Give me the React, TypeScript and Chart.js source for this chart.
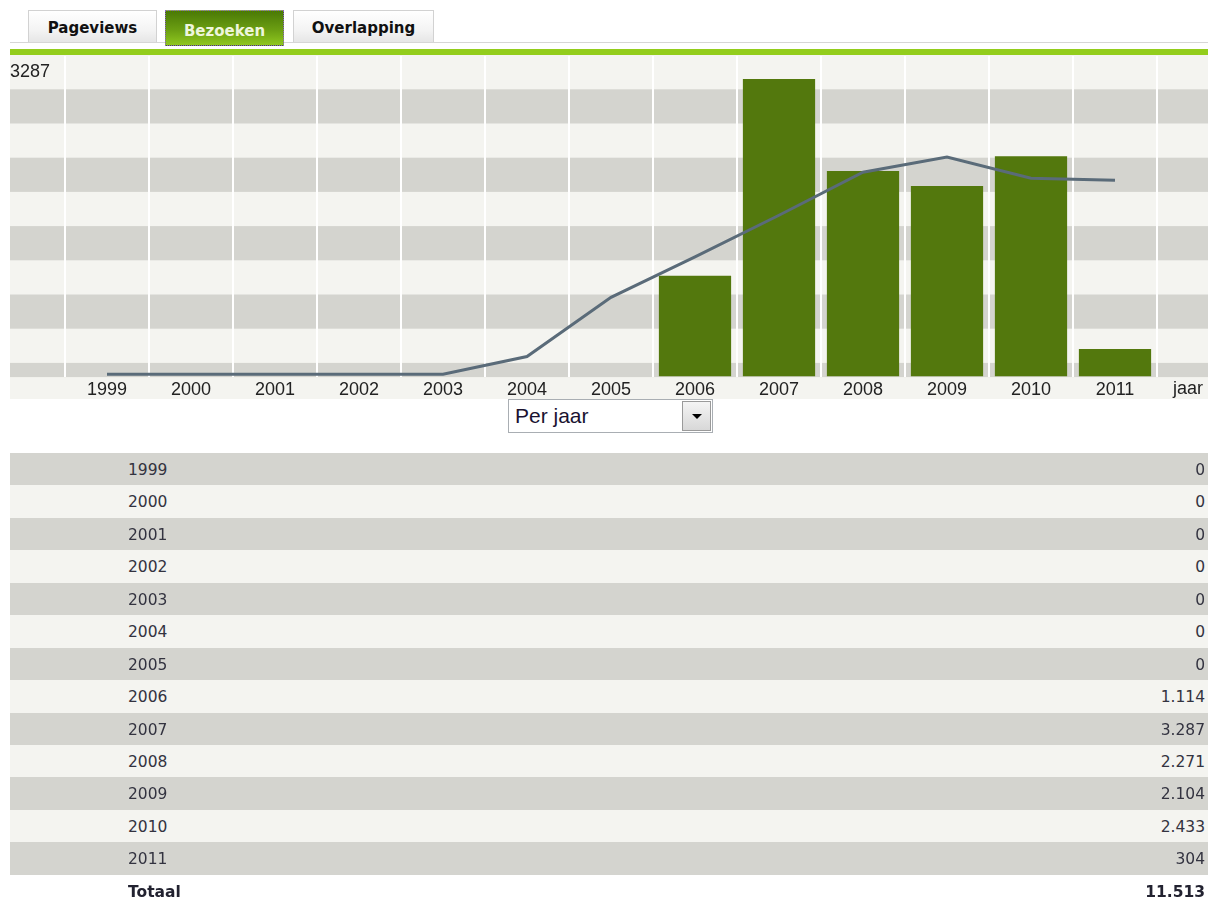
import React, { useEffect, useRef } from "react";
import { Chart, registerables } from "chart.js";

Chart.register(...registerables);

const years = ["1999", "2000", "2001", "2002", "2003", "2004", "2005", "2006", "2007", "2008", "2009", "2010", "2011"];
const visits = [0, 0, 0, 0, 0, 0, 0, 1114, 3287, 2271, 2104, 2433, 304];
const trend = [25, 25, 25, 25, 25, 221, 874, 1321, 1781, 2257, 2423, 2190, 2168];
const tabs = ["Pageviews", "Bezoeken", "Overlapping"];
const yMaxLabel = "3287";
const xAxisTitle = "jaar";
const periodLabel = "Per jaar";
const totalLabel = "Totaal";

const fmt = (n: number) => String(n).replace(/\B(?=(\d{3})+(?!\d))/g, ".");

const stripePlugin = {
  id: "stripes",
  beforeDraw(chart: any) {
    const { ctx, chartArea, width, height } = chart;
    ctx.save();
    ctx.fillStyle = "#f4f4f0";
    ctx.fillRect(0, 0, width, height);
    ctx.fillStyle = "#d4d4cf";
    const bottom = chartArea.bottom + 0.6;
    for (let y = 34.3; y < bottom; y += 68.4) {
      const h = Math.min(34.2, bottom - y);
      ctx.fillRect(0, y, width, h);
    }
    ctx.restore();
  },
};

function ChartBox() {
  const ref = useRef<HTMLCanvasElement | null>(null);
  useEffect(() => {
    if (!ref.current) return;
    const chart = new Chart(ref.current, {
      type: "bar",
      data: {
        labels: years,
        datasets: [
          {
            type: "line",
            data: trend,
            borderColor: "#5a6b79",
            borderWidth: 3,
            pointRadius: 0,
            tension: 0,
            order: 0,
          } as any,
          {
            type: "bar",
            data: visits,
            backgroundColor: "#53780d",
            borderWidth: 0,
            barPercentage: 0.86,
            categoryPercentage: 1,
            order: 1,
          },
        ],
      },
      options: {
        responsive: false,
        animation: false,
        layout: { padding: { left: 55, right: 51, top: 1, bottom: 0 } },
        plugins: { legend: { display: false }, tooltip: { enabled: false } },
        scales: {
          x: {
            offset: true,
            grid: { display: true, color: "#ffffff", lineWidth: 2, drawTicks: false, offset: true },
            border: { display: false },
            afterFit: (scale: any) => {
              scale.height = 22.5;
            },
            ticks: {
              padding: 3,
              color: "#222222",
              font: { family: "'Liberation Sans', Arial, sans-serif", size: 18 },
              maxRotation: 0,
              autoSkip: false,
            },
          },
          y: {
            display: false,
            min: 0,
            max: 3540,
            grid: { display: false },
          },
        },
      },
      plugins: [stripePlugin],
    });
    return () => chart.destroy();
  }, []);
  return <canvas ref={ref} width={1198} height={344} style={{ display: "block", width: 1198, height: 344 }} />;
}

const tabFont = "'DejaVu Sans', Verdana, sans-serif";

function Tabs() {
  const geo = [
    { left: 28, width: 129, top: 10, height: 32 },
    { left: 165, width: 119, top: 10, height: 36 },
    { left: 293, width: 141, top: 10, height: 32 },
  ];
  return (
    <>
      {tabs.map((t, i) => {
        const g = geo[i];
        const active = i === 1;
        return (
          <div
            key={t}
            style={{
              position: "absolute",
              left: g.left,
              top: g.top,
              width: g.width,
              height: g.height,
              boxSizing: "border-box",
              border: active ? "1px dotted #8a5ccf" : "1px solid #d2d2d2",
              borderBottom: active ? "1px dotted #8a5ccf" : "none",
              background: active
                ? "linear-gradient(#4a7906, #6b9e12 55%, #8fc71f)"
                : "linear-gradient(#ffffff, #f4f4f4 60%, #e6e6e6)",
              color: active ? "#eef6dc" : "#111111",
              fontFamily: tabFont,
              fontWeight: "bold",
              fontSize: 15,
              textAlign: "center",
              lineHeight: active ? "40px" : "34px",
            }}
          >
            {t}
          </div>
        );
      })}
    </>
  );
}

export default function App() {
  const rowFont = "'DejaVu Sans', Verdana, sans-serif";
  const total = visits.reduce((a, b) => a + b, 0);
  return (
    <div style={{ position: "absolute", left: 0, top: 0, width: 1208, height: 901, background: "#ffffff" }}>
      <div style={{ position: "absolute", left: 10, top: 42, width: 1198, height: 1, background: "#d6d6d6" }} />
      <Tabs />
      <div style={{ position: "absolute", left: 10, top: 49, width: 1198, height: 6, background: "#93cd1c" }} />
      <div style={{ position: "absolute", left: 10, top: 55 }}>
        <ChartBox />
      </div>
      <div
        style={{
          position: "absolute",
          left: 10,
          top: 60,
          fontFamily: "'Liberation Sans', Arial, sans-serif",
          fontSize: 18,
          lineHeight: "22px",
          color: "#222",
        }}
      >
        {yMaxLabel}
      </div>
      <div
        style={{
          position: "absolute",
          left: 1173,
          top: 377,
          fontFamily: "'Liberation Sans', Arial, sans-serif",
          fontSize: 18,
          lineHeight: "22px",
          color: "#222",
        }}
      >
        {xAxisTitle}
      </div>
      {/* dropdown */}
      <div
        style={{
          position: "absolute",
          left: 508,
          top: 399,
          width: 205,
          height: 34,
          boxSizing: "border-box",
          border: "1px solid #a9aeb3",
          background: "#ffffff",
        }}
      >
        <div
          style={{
            position: "absolute",
            left: 6,
            top: 0,
            lineHeight: "31px",
            fontFamily: "'Liberation Sans', Arial, sans-serif",
            fontSize: 21,
            color: "#1a1230",
          }}
        >
          {periodLabel}
        </div>
        <div
          style={{
            position: "absolute",
            right: 1,
            top: 1,
            width: 29,
            height: 30,
            boxSizing: "border-box",
            border: "1px solid #9a9a9a",
            background: "linear-gradient(#f4f4f4, #d8d8d8)",
          }}
        >
          <div
            style={{
              position: "absolute",
              left: 9,
              top: 12,
              width: 0,
              height: 0,
              borderLeft: "5px solid transparent",
              borderRight: "5px solid transparent",
              borderTop: "5px solid #000",
            }}
          />
        </div>
      </div>
      {/* table */}
      <div style={{ position: "absolute", left: 10, top: 453, width: 1198 }}>
        {years.map((y, i) => (
          <div
            key={y}
            style={{
              position: "relative",
              height: 32.45,
              background: i % 2 === 0 ? "#d4d4cf" : "#f4f4f0",
              fontFamily: rowFont,
              fontSize: 15.5,
              color: "#333340",
              lineHeight: "34px",
            }}
          >
            <span style={{ position: "absolute", left: 118 }}>{y}</span>
            <span style={{ position: "absolute", right: 3 }}>{fmt(visits[i])}</span>
          </div>
        ))}
        <div
          style={{
            position: "relative",
            height: 32,
            fontFamily: rowFont,
            fontSize: 15.5,
            fontWeight: "bold",
            color: "#222230",
            lineHeight: "34px",
          }}
        >
          <span style={{ position: "absolute", left: 118 }}>{totalLabel}</span>
          <span style={{ position: "absolute", right: 3 }}>{fmt(total)}</span>
        </div>
      </div>
    </div>
  );
}
